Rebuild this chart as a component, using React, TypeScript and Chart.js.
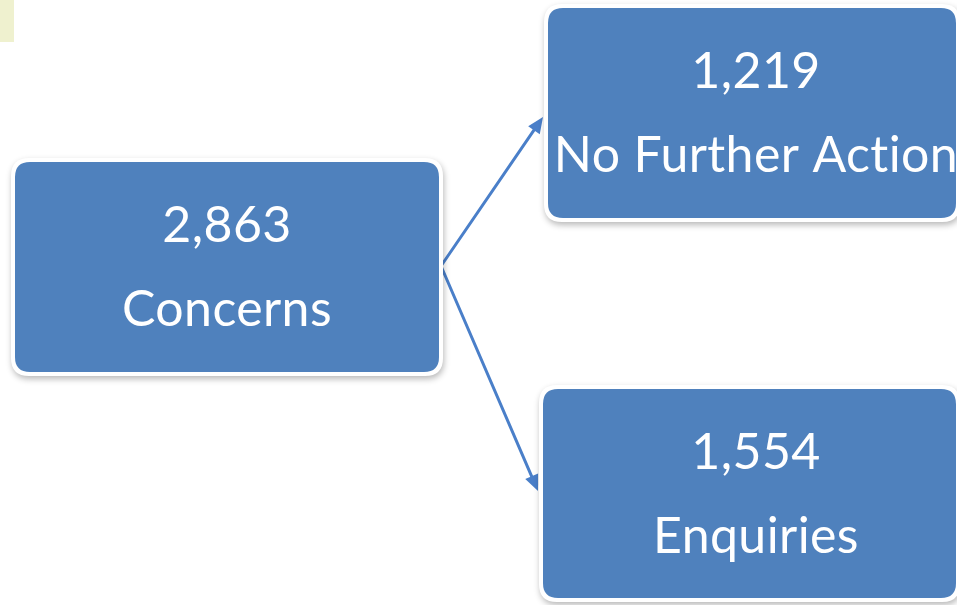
import React, { useEffect, useRef } from "react";
import { Chart, registerables } from "chart.js";

Chart.register(...registerables);

// ---- data ----
const nodeLabels: string[] = ["Concerns", "No Further Action", "Enquiries"];
const nodeValues: number[] = [2863, 1219, 1554];
const linkSources: number[] = [0, 0];
const linkTargets: number[] = [1, 2];

// ---- layout (scale units, not data) ----
const boxLeft: number[] = [15, 548, 543];
const boxRight: number[] = [439, 956, 956];
const boxTop: number[] = [162, 8, 389];
const boxBottom: number[] = [372, 218, 598];
const textCenterX: number[] = [227, 756, 756];
const linkStart = { x: 441, y: 266 };
const linkEnd: { x: number; y: number }[] = [
  { x: 543, y: 117 },
  { x: 538, y: 491 },
];

const BLUE = "#4f81bd";
const ARROW = "#4a7fc9";

function roundRect(ctx: CanvasRenderingContext2D, x: number, y: number, w: number, h: number, r: number) {
  ctx.beginPath();
  ctx.moveTo(x + r, y);
  ctx.lineTo(x + w - r, y);
  ctx.quadraticCurveTo(x + w, y, x + w, y + r);
  ctx.lineTo(x + w, y + h - r);
  ctx.quadraticCurveTo(x + w, y + h, x + w - r, y + h);
  ctx.lineTo(x + r, y + h);
  ctx.quadraticCurveTo(x, y + h, x, y + h - r);
  ctx.lineTo(x, y + r);
  ctx.quadraticCurveTo(x, y, x + r, y);
  ctx.closePath();
}

const diagramPlugin = {
  id: "diagram",
  beforeDraw(chart: any) {
    const ctx: CanvasRenderingContext2D = chart.ctx;
    ctx.save();
    ctx.fillStyle = "#ffffff";
    ctx.fillRect(0, 0, chart.width, chart.height);
    const xs = chart.scales.x;
    const ys = chart.scales.y;
    // decorative pale block top-left
    ctx.fillStyle = "#eff1cf";
    ctx.fillRect(xs.getPixelForValue(0), ys.getPixelForValue(0), xs.getPixelForValue(14) - xs.getPixelForValue(0), ys.getPixelForValue(42) - ys.getPixelForValue(0));
    ctx.restore();
  },
  afterDraw(chart: any) {
    const ctx: CanvasRenderingContext2D = chart.ctx;
    const xs = chart.scales.x;
    const ys = chart.scales.y;
    ctx.save();

    // links
    linkSources.forEach((s, i) => {
      const x0 = xs.getPixelForValue(linkStart.x);
      const y0 = ys.getPixelForValue(linkStart.y);
      const x1 = xs.getPixelForValue(linkEnd[i].x);
      const y1 = ys.getPixelForValue(linkEnd[i].y);
      const ang = Math.atan2(y1 - y0, x1 - x0);
      const headLen = 16;
      const headW = 7;
      const bx = x1 - headLen * Math.cos(ang);
      const by = y1 - headLen * Math.sin(ang);
      ctx.strokeStyle = ARROW;
      ctx.lineWidth = 3;
      ctx.lineCap = "round";
      ctx.lineJoin = "round";
      ctx.beginPath();
      ctx.moveTo(x0, y0);
      ctx.lineTo(bx, by);
      ctx.stroke();
      ctx.fillStyle = ARROW;
      ctx.beginPath();
      ctx.moveTo(x1, y1);
      ctx.lineTo(bx + headW * Math.sin(ang), by - headW * Math.cos(ang));
      ctx.lineTo(bx - headW * Math.sin(ang), by + headW * Math.cos(ang));
      ctx.closePath();
      ctx.fill();
    });

    // boxes
    nodeLabels.forEach((label, i) => {
      const l = xs.getPixelForValue(boxLeft[i]);
      const r = xs.getPixelForValue(boxRight[i]);
      const t = ys.getPixelForValue(boxTop[i]);
      const b = ys.getPixelForValue(boxBottom[i]);
      const w = r - l;
      const h = b - t;
      // white frame with soft shadow
      ctx.save();
      ctx.shadowColor = "rgba(0,0,0,0.28)";
      ctx.shadowBlur = 6;
      ctx.shadowOffsetX = 1;
      ctx.shadowOffsetY = 3;
      ctx.fillStyle = "#ffffff";
      roundRect(ctx, l - 4, t - 4, w + 8, h + 8, 18);
      ctx.fill();
      ctx.restore();
      ctx.fillStyle = BLUE;
      roundRect(ctx, l, t, w, h, 15);
      ctx.fill();

      const cx = xs.getPixelForValue(textCenterX[i]);
      const cy = (t + b) / 2;
      ctx.fillStyle = "#ffffff";
      ctx.textAlign = "center";
      ctx.textBaseline = "middle";
      ctx.font = "50px Lato";
      (ctx as any).letterSpacing = "0.4px";
      ctx.fillText(nodeValues[i].toLocaleString("en-US"), cx, cy - 41);
      ctx.fillText(label, cx, cy + 43);
    });
    ctx.restore();
  },
};

export default function App() {
  const canvasRef = useRef<HTMLCanvasElement | null>(null);
  useEffect(() => {
    document.body.style.margin = "0";
    const canvas = canvasRef.current!;
    const chart = new Chart(canvas, {
      type: "scatter",
      data: { datasets: [{ data: [], pointRadius: 0 }] },
      options: {
        animation: false,
        responsive: false,
        maintainAspectRatio: false,
        layout: { padding: 0 },
        plugins: { legend: { display: false }, tooltip: { enabled: false } },
        scales: {
          x: { type: "linear", min: 0, max: 957, display: false },
          y: { type: "linear", min: 0, max: 605, reverse: true, display: false },
        },
      },
      plugins: [diagramPlugin],
    });
    return () => chart.destroy();
  }, []);
  return (
    <div style={{ width: 957, height: 605 }}>
      <canvas ref={canvasRef} width={957} height={605} style={{ display: "block" }} />
    </div>
  );
}
